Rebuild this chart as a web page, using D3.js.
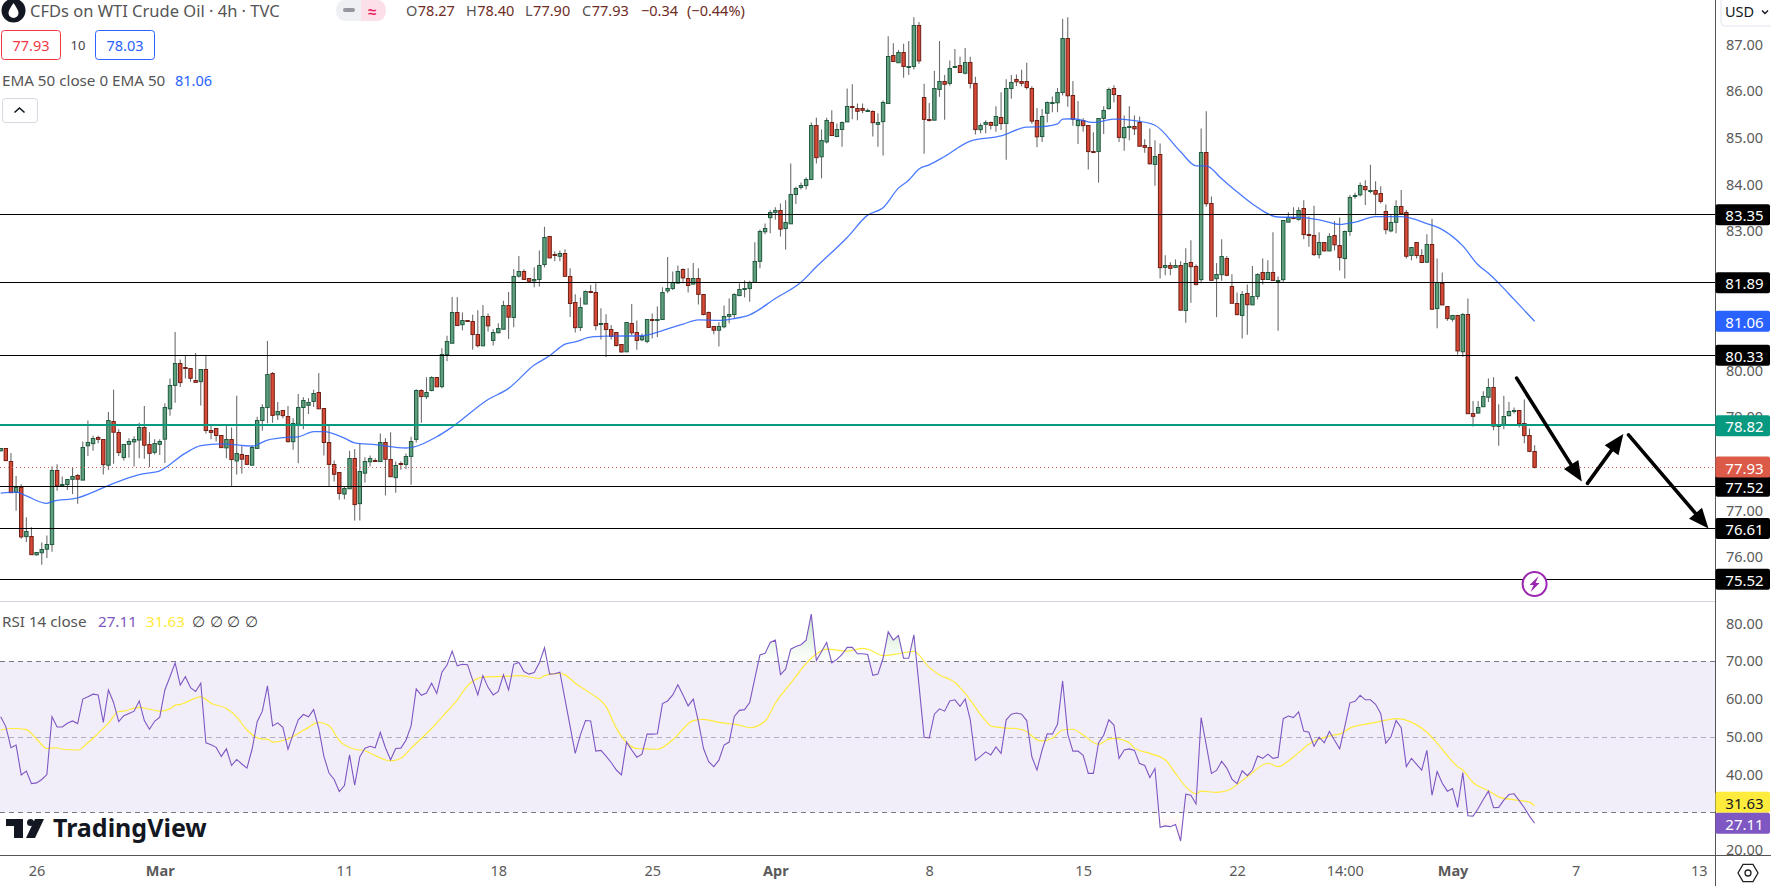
<!DOCTYPE html>
<html>
<head>
<meta charset="utf-8">
<script src="https://cdn.jsdelivr.net/npm/d3@7"></script>
<style>
  html, body { margin: 0; padding: 0; background: #fff; overflow: hidden; }
  text { font-family: "Noto Sans", sans-serif; }
</style>
</head>
<body>
<div id="chart"></div>
<script>
// WTI 4h candles, one entry per bar
const opens = [
78.28,78.33,78.07,77.40,77.50,76.44,76.46,76.05,76.10,76.17,
76.27,77.86,77.55,77.56,77.67,77.75,77.67,78.39,78.44,78.57,
78.53,77.99,78.93,78.68,78.14,78.42,78.48,78.53,78.80,78.42,
78.25,78.44,78.53,79.19,79.69,80.16,80.08,80.05,79.81,79.77,
80.03,78.72,78.76,78.61,78.35,78.53,78.07,78.20,78.18,77.99,
78.35,78.93,79.21,79.94,79.06,79.15,79.02,78.48,78.87,79.23,
79.26,79.34,79.54,79.19,78.46,77.99,77.82,77.35,77.47,78.12,
77.15,77.82,78.05,78.09,78.05,78.46,78.10,77.71,78.01,77.99,
78.18,78.53,79.58,79.45,79.58,79.86,79.66,80.35,80.61,81.27,
80.99,81.08,81.06,80.78,80.54,81.17,80.65,80.82,80.91,81.42,
81.15,82.03,82.15,81.98,81.93,81.98,82.28,82.89,82.50,82.46,
82.52,82.03,81.47,80.93,81.45,81.71,81.70,81.01,81.02,80.89,
80.82,80.57,80.41,81.02,80.84,80.67,80.63,81.11,81.11,81.12,
81.72,81.77,81.90,82.18,82.00,81.88,81.98,81.64,81.27,80.95,
80.87,80.95,81.17,81.21,81.62,81.76,81.77,81.90,82.35,82.99,
83.29,83.42,83.46,83.06,83.16,83.79,83.94,83.98,84.11,85.27,
84.60,84.92,85.33,85.03,85.18,85.35,85.68,85.65,85.63,85.58,
85.57,85.31,85.35,85.74,86.77,86.62,86.84,86.53,86.54,87.42,
85.87,85.40,85.38,86.06,86.23,86.17,86.53,86.56,86.39,86.62,
86.17,85.18,85.31,85.35,85.27,85.44,85.31,86.06,86.26,86.23,
86.21,86.08,85.38,85.03,85.55,85.78,85.76,85.98,87.14,85.91,
85.27,85.38,85.27,84.71,84.71,85.42,85.63,86.06,85.91,85.01,
85.24,85.25,85.35,84.84,84.80,84.45,84.65,82.22,82.26,82.22,
82.26,81.30,82.33,82.24,81.96,84.69,83.59,81.98,82.07,82.43,
81.81,81.45,81.19,81.66,81.42,81.60,82.11,81.96,82.11,81.94,
81.96,83.21,83.29,83.27,83.49,82.93,82.91,82.50,82.76,82.58,
82.91,82.69,82.43,82.99,83.77,83.78,83.96,83.89,83.89,83.81,
83.42,83.01,83.19,83.53,83.40,82.48,82.76,82.48,82.33,82.71,
81.34,81.88,81.38,81.12,81.20,80.41,81.21,79.10,79.11,79.23,
79.45,79.66,78.83,78.85,79.04,79.13,79.15,78.87,78.61,78.27];
const closes = [
78.33,78.07,77.40,77.50,76.44,76.55,76.07,76.10,76.17,76.27,
77.86,77.53,77.57,77.67,77.73,77.67,78.37,78.46,78.55,78.53,
77.99,78.95,78.70,78.25,78.42,78.48,78.53,78.80,78.42,78.23,
78.44,78.50,79.21,79.69,80.16,79.75,80.07,79.84,79.77,80.03,
78.72,78.68,78.61,78.35,78.53,78.10,78.23,78.10,77.99,78.37,
78.95,79.21,79.92,79.04,79.13,79.04,78.48,78.87,79.23,79.38,
79.32,79.51,79.19,78.46,77.99,77.78,77.37,77.47,78.12,77.13,
77.84,78.07,78.12,78.07,78.46,78.10,77.73,77.97,78.00,78.16,
78.50,79.58,79.45,79.54,79.86,79.66,80.35,80.63,81.27,80.99,
81.08,81.07,80.78,80.54,81.17,80.97,80.82,80.91,81.42,81.17,
82.03,82.13,81.98,81.92,81.96,82.28,82.86,82.43,82.48,82.52,
82.03,81.45,80.93,81.36,81.72,81.70,80.99,81.02,80.89,80.74,
80.54,80.41,81.04,80.82,80.67,80.74,81.10,81.10,81.12,81.70,
81.77,81.90,82.15,82.00,81.85,82.00,81.64,81.21,80.95,80.87,
80.95,81.17,81.21,81.64,81.75,81.78,81.90,82.35,82.99,83.06,
83.40,83.46,83.06,83.19,83.79,83.92,83.98,84.11,85.27,84.58,
84.95,85.38,85.05,85.18,85.33,85.68,85.67,85.59,85.59,85.59,
85.33,85.35,85.76,86.75,86.64,86.84,86.54,86.54,87.42,86.66,
85.40,85.38,86.06,86.23,86.17,86.49,86.54,86.41,86.62,86.17,
85.18,85.27,85.35,85.29,85.46,85.31,86.06,86.19,86.21,86.19,
86.08,85.38,85.03,85.46,85.78,85.78,85.98,87.14,85.91,85.40,
85.38,85.27,84.71,84.70,85.42,85.59,86.04,85.93,85.01,85.23,
85.25,85.20,84.84,84.80,84.45,84.62,82.22,82.26,82.20,82.26,
81.30,82.31,82.24,81.85,84.69,83.59,81.94,82.07,82.46,82.07,
81.45,81.21,81.64,81.42,81.60,82.07,81.96,82.11,81.94,81.95,
83.23,83.31,83.27,83.46,82.93,82.92,82.50,82.76,82.58,82.89,
82.71,82.43,83.01,83.72,83.78,83.98,83.89,83.89,83.81,83.64,
83.03,83.19,83.53,83.38,82.46,82.65,82.48,82.33,82.71,81.32,
81.90,81.42,81.12,81.20,80.44,81.21,79.08,79.04,79.23,79.45,
79.66,78.83,78.84,79.02,79.13,79.15,78.87,78.61,78.27,77.93];
const highs = [
78.34,78.33,78.23,77.74,77.56,76.85,76.64,76.10,76.31,76.46,
77.94,77.99,77.73,77.67,77.92,77.78,78.48,78.93,78.60,78.60,
78.53,79.11,79.59,78.74,78.42,78.55,78.59,78.88,79.24,78.68,
78.53,78.53,79.30,79.83,80.83,80.24,80.33,80.05,80.38,80.03,
80.34,78.84,78.76,78.61,78.85,78.78,79.46,78.38,78.18,78.40,
79.01,79.28,80.64,79.97,79.33,79.15,79.24,78.98,79.50,79.43,
79.41,79.59,79.95,79.19,78.81,78.07,77.82,77.51,78.28,78.32,
78.44,78.14,78.18,78.12,78.65,78.55,78.68,78.05,78.05,78.22,
78.58,79.60,79.60,79.86,79.88,79.86,80.48,80.75,81.58,81.58,
81.25,81.08,81.20,81.30,81.41,81.23,80.89,81.02,81.50,81.69,
82.18,82.46,82.18,81.98,82.22,82.58,83.09,82.89,82.56,82.58,
82.61,82.20,81.64,81.57,81.72,81.84,81.88,81.34,81.21,80.98,
80.82,80.57,81.04,81.43,81.08,80.80,81.10,81.23,81.38,81.79,
82.44,82.13,82.26,82.20,82.20,82.31,82.20,81.64,81.27,80.95,
81.04,81.40,81.55,81.66,81.88,81.94,81.93,82.76,83.03,83.16,
83.45,83.51,83.59,83.66,84.45,83.95,84.04,84.15,85.33,85.43,
85.18,85.43,85.59,85.31,85.35,86.06,86.15,85.74,85.74,85.63,
85.59,85.53,85.80,87.18,87.03,86.89,87.02,87.08,87.59,87.49,
86.16,85.75,86.44,87.08,86.35,86.66,86.91,86.74,86.93,86.74,
86.31,85.31,85.38,85.35,85.68,85.98,86.26,86.35,86.36,86.46,
86.61,86.11,85.64,85.62,85.78,85.89,86.07,87.55,87.59,86.22,
85.79,85.42,85.27,85.12,85.42,85.68,86.08,86.13,85.91,85.48,
85.68,85.48,85.46,84.97,85.20,84.95,84.88,82.48,82.33,82.39,
82.35,82.63,82.80,82.28,85.20,85.57,83.74,82.31,82.82,82.46,
82.07,81.68,81.71,81.85,82.25,82.09,82.41,82.37,82.97,82.02,
83.23,83.40,83.51,83.51,83.66,83.31,83.54,82.97,82.76,82.95,
83.21,83.29,83.01,83.77,83.82,84.04,84.09,84.42,84.07,83.96,
83.57,83.36,83.66,83.88,83.45,82.65,82.76,82.61,82.93,83.26,
82.41,82.11,81.38,81.20,81.20,81.24,81.55,79.35,79.35,79.56,
79.83,79.86,79.28,79.46,79.33,79.21,79.15,79.38,78.76,78.40];
const lows = [
78.27,78.07,77.40,76.99,76.39,76.32,76.06,76.03,75.83,75.98,
76.11,77.42,77.50,77.44,77.35,77.14,77.67,78.17,78.28,78.44,
77.77,77.87,78.00,78.17,78.07,78.13,77.94,78.12,78.11,77.93,
78.20,78.19,78.02,79.03,79.31,79.65,79.83,79.76,79.75,79.25,
78.65,78.53,78.48,78.35,78.12,77.51,77.77,77.79,77.98,77.99,
78.35,78.71,78.87,78.88,78.94,78.98,78.46,78.30,78.01,78.74,
79.07,79.22,79.19,78.18,77.52,77.62,77.23,77.24,77.47,76.78,
76.78,77.60,77.94,78.05,78.05,77.32,77.73,77.38,77.87,77.89,
77.55,78.46,78.88,79.39,79.56,79.66,79.62,80.20,80.61,80.99,
80.87,81.07,80.45,80.50,80.54,80.84,80.54,80.80,80.91,80.68,
80.93,82.00,81.98,81.89,81.79,81.81,82.22,82.43,82.35,82.35,
82.03,81.15,80.82,80.85,81.45,81.66,80.87,80.67,80.29,80.67,
80.52,80.39,80.41,80.76,80.45,80.63,80.59,80.69,80.72,81.12,
81.66,81.73,81.88,81.88,81.68,81.85,81.42,81.19,80.95,80.78,
80.52,80.91,81.02,81.12,81.60,81.57,81.48,81.90,82.20,82.93,
82.95,83.24,82.88,82.60,83.16,83.58,83.89,83.89,84.11,84.45,
84.13,84.88,85.05,85.01,84.81,85.35,85.40,85.38,85.53,85.56,
85.03,84.81,84.62,85.74,86.64,86.62,86.29,86.35,86.47,86.59,
84.66,85.35,85.38,85.88,85.39,86.12,86.51,86.41,86.36,86.06,
85.07,85.10,85.10,85.18,85.13,85.17,84.53,85.84,86.11,86.11,
86.04,85.30,84.80,84.91,85.33,85.55,85.55,85.91,85.67,85.26,
84.87,85.13,84.32,84.70,84.04,85.08,85.61,85.76,84.91,84.72,
84.95,85.06,84.83,84.68,84.43,83.97,81.98,82.05,82.05,82.20,
81.30,81.03,81.46,81.84,81.88,83.52,81.94,81.15,81.93,82.03,
81.45,81.21,80.69,80.77,81.42,81.53,81.85,81.96,81.94,80.86,
81.90,83.19,83.25,83.22,82.82,82.66,82.46,82.41,82.56,82.58,
82.58,82.15,81.98,82.90,83.69,83.74,83.56,83.81,83.34,83.59,
82.93,82.97,82.95,83.38,82.41,82.37,82.41,82.31,82.31,81.32,
80.91,81.42,81.07,81.05,80.34,80.30,79.08,78.80,79.08,79.23,
79.33,78.72,78.39,78.74,79.02,79.08,78.78,78.44,78.25,77.90];

// EMA 50, read at the bars where it bends
const emaBars = [0,3,5,9,10,15,19,22,27,31,36,39,43,49,52,56,58,61,63,67,69,73,79,85,88,95,99,104,107,110,112,115,118,125,129,133,136,140,143,146,151,156,159,165,169,172,175,177,179,181,184,189,195,200,203,206,207,209,213,217,221,225,230,233,235,238,241,244,249,253,257,261,264,268,273,278,281,285,288,290,292,295,299];
const emaValues = [77.37,77.39,77.31,77.15,77.19,77.27,77.44,77.58,77.77,77.85,78.23,78.39,78.43,78.38,78.51,78.57,78.58,78.69,78.69,78.55,78.45,78.41,78.34,78.58,78.79,79.38,79.62,80.12,80.32,80.57,80.62,80.72,80.74,80.75,80.86,81.00,81.09,81.08,81.12,81.20,81.55,81.90,82.23,82.86,83.34,83.50,83.92,84.09,84.33,84.42,84.60,84.93,85.04,85.23,85.24,85.30,85.40,85.41,85.33,85.40,85.37,85.27,84.70,84.40,84.40,84.12,83.84,83.58,83.30,83.29,83.24,83.14,83.19,83.31,83.31,83.16,83.03,82.68,82.27,82.09,81.88,81.53,81.06];

// RSI 14, one entry per bar
const rsiValues = [
55.3,52.7,47.1,47.8,39.9,40.9,37.6,37.8,38.7,40.0,
55.3,52.6,52.6,53.6,54.2,53.5,60.0,60.6,61.3,61.1,
53.8,62.4,59.1,54.0,55.6,56.2,56.8,59.5,54.3,52.0,
54.1,55.2,62.4,65.9,69.6,63.7,65.9,63.0,62.0,64.2,
48.4,47.9,47.2,44.8,46.8,42.4,44.0,42.8,41.7,46.7,
54.0,56.8,63.5,52.9,53.7,52.5,46.7,50.7,54.5,55.9,
55.3,57.2,52.2,44.8,40.4,38.7,35.5,37.1,45.2,37.2,
44.7,47.0,47.5,47.1,51.2,47.1,43.9,46.9,47.0,49.1,
52.9,62.7,61.0,61.6,64.2,61.5,67.1,69.0,72.7,68.8,
69.2,69.1,65.0,61.1,66.2,63.1,61.1,62.0,66.4,62.4,
69.2,69.7,67.3,66.6,67.0,69.6,73.6,66.6,66.7,67.1,
59.9,52.7,45.6,50.5,54.3,54.2,46.2,46.4,44.9,43.2,
41.2,39.9,48.6,46.5,44.6,45.4,50.7,50.7,50.8,58.8,
59.5,61.1,63.8,61.1,58.2,60.0,54.0,46.9,43.4,42.1,
43.8,47.8,48.6,55.4,57.0,57.2,59.1,65.5,71.7,72.1,
75.0,75.6,66.5,67.9,73.2,73.9,74.4,75.6,82.5,70.2,
72.6,75.0,69.6,70.5,71.8,73.7,73.7,72.0,72.0,71.8,
66.3,66.6,70.8,77.8,75.6,76.8,70.8,70.8,77.0,63.7,
49.9,49.7,56.0,57.4,56.8,59.5,59.8,58.1,60.0,54.5,
43.8,44.8,46.0,45.2,47.3,45.6,54.5,56.0,56.3,56.0,
54.3,44.7,41.2,46.5,50.8,50.7,53.3,64.8,50.7,46.2,
46.2,45.1,40.3,40.3,48.4,50.4,54.5,53.1,44.3,46.5,
46.8,46.4,42.9,42.4,39.2,41.6,26.0,26.4,26.2,26.8,
22.4,34.8,34.5,32.2,55.1,47.8,40.3,41.1,43.5,41.7,
38.8,37.6,41.0,39.7,41.2,44.9,44.3,45.4,44.3,44.6,
54.8,55.5,55.1,56.6,51.5,51.2,47.5,49.9,48.4,51.4,
49.1,46.8,52.7,59.0,59.4,61.0,59.8,59.8,58.6,56.2,
48.3,50.0,54.3,52.4,42.1,44.3,42.7,41.2,46.4,34.5,
40.8,37.7,35.6,36.3,31.3,40.5,29.1,29.0,31.0,33.4,
35.6,31.2,31.3,33.2,34.7,34.9,33.1,31.2,29.0,27.11];

// RSI moving average, read at the bars where it bends
const maBars = [0,2,3,5,7,9,11,12,15,17,19,21,23,24,27,29,31,33,34,35,39,41,44,46,48,51,52,53,56,58,60,62,64,66,69,71,73,76,78,80,84,87,89,91,94,98,101,105,106,109,110,112,115,118,120,124,126,128,131,135,137,140,144,146,149,151,154,158,161,165,168,169,172,175,178,181,183,186,188,192,193,196,198,200,202,203,205,207,209,211,214,216,217,220,221,224,227,229,231,233,234,237,239,243,247,249,252,255,260,261,263,268,270,272,275,278,280,284,285,287,290,292,295,298,299];
const maValues = [51.8,52.2,52.2,51.9,49.4,46.9,47.1,46.7,46.5,48.4,50.9,53.6,56.7,56.8,57.8,57.3,56.8,57.4,58.4,58.6,60.6,58.9,57.5,55.3,51.8,49.4,49.4,48.6,49.4,50.9,52.5,53.8,52.9,49.0,46.7,46.3,45.0,43.6,44.3,47.0,52.2,56.7,59.8,63.5,65.8,66.0,66.2,65.5,66.2,66.8,66.4,64.2,61.5,58.0,52.3,46.9,46.8,46.7,49.2,54.3,54.6,53.8,53.1,52.4,54.2,58.9,64.2,70.8,73.2,72.7,73.4,73.2,71.5,72.0,72.6,68.4,66.4,64.4,61.5,54.2,52.9,52.3,52.2,51.4,49.2,48.9,49.6,51.8,52.0,50.5,48.0,49.4,49.6,48.4,47.0,45.6,43.9,40.3,36.8,34.9,35.6,35.3,35.7,39.4,43.0,42.1,44.7,48.0,50.5,50.7,52.3,53.8,54.4,54.8,53.9,51.2,48.3,42.1,41.2,37.9,35.7,34.1,33.3,32.7,31.63];

const priceTicks = [87,86,85,84,83,80,79,77,76];
const rsiTicks = [80,70,60,50,40,20];
const timeTickBars = [7,31,67,97,127,151,181,211,241,262,283,307,331];
const timeTickLabels = ["26","Mar","11","18","25","Apr","8","15","22","14:00","May","7","13"];
const timeTickBold = ["Mar","Apr","May"];

// horizontal levels drawn on the chart
const blackLevels = [83.35,81.89,80.33,77.52,76.61,75.52];
const tealLevel = 78.82;
const lastClose = 77.93;
const lastEma = 81.06;
const lastRsi = 27.11;
const lastMa = 31.63;

// the three hand drawn arrows, [from, to]
const arrowBars = [[295.5,308.2],[309.3,316.3],[317.3,332.9]];
const arrowPrices = [[79.84,77.62],[77.58,78.64],[78.62,76.61]];
const boltBar = 299;
const boltPrice = 75.42;

const width = 1771, height = 886;
const axisX = 1715.5, paneSplit = 601.5, bottomY = 855.5;

const x = d3.scaleLinear().domain([0, 299]).range([0.7, 1534.6]);
const y = d3.scaleLinear().domain([87, 75.52]).range([44.7, 579.3]);
const yRsi = d3.scaleLinear().domain([70, 30]).range([661.3, 812.3]);

const svg = d3.select("#chart").append("svg")
  .attr("width", width).attr("height", height)
  .style("display", "block");

const defs = svg.append("defs");
defs.append("clipPath").attr("id", "clip-price").append("rect")
  .attr("x", 0).attr("y", 0).attr("width", axisX).attr("height", paneSplit);
defs.append("clipPath").attr("id", "clip-rsi").append("rect")
  .attr("x", 0).attr("y", paneSplit).attr("width", axisX).attr("height", bottomY - paneSplit);
defs.append("clipPath").attr("id", "clip-over").append("rect")
  .attr("x", 0).attr("y", paneSplit).attr("width", axisX).attr("height", yRsi(70) - paneSplit);
defs.append("clipPath").attr("id", "clip-under").append("rect")
  .attr("x", 0).attr("y", yRsi(30)).attr("width", axisX).attr("height", bottomY - yRsi(30));

const overGrad = defs.append("linearGradient").attr("id", "grad-over")
  .attr("gradientUnits", "userSpaceOnUse")
  .attr("x1", 0).attr("x2", 0).attr("y1", yRsi(82)).attr("y2", yRsi(70));
overGrad.append("stop").attr("offset", 0).attr("stop-color", "#4caf50").attr("stop-opacity", 0.3);
overGrad.append("stop").attr("offset", 1).attr("stop-color", "#4caf50").attr("stop-opacity", 0);
const underGrad = defs.append("linearGradient").attr("id", "grad-under")
  .attr("gradientUnits", "userSpaceOnUse")
  .attr("x1", 0).attr("x2", 0).attr("y1", yRsi(30)).attr("y2", yRsi(22));
underGrad.append("stop").attr("offset", 0).attr("stop-color", "#ff5252").attr("stop-opacity", 0);
underGrad.append("stop").attr("offset", 1).attr("stop-color", "#ff5252").attr("stop-opacity", 0.14);

const bars = d3.range(opens.length);
const priceG = svg.append("g").attr("clip-path", "url(#clip-price)");

// wicks then bodies
priceG.append("g").selectAll("line").data(bars).join("line")
  .attr("x1", i => x(i)).attr("x2", i => x(i))
  .attr("y1", i => y(highs[i])).attr("y2", i => y(lows[i]))
  .attr("stroke", "#6e6e6e").attr("stroke-width", 1.1);

priceG.append("g").selectAll("rect").data(bars).join("rect")
  .attr("x", i => x(i) - 1.7)
  .attr("width", 3.4)
  .attr("y", i => Math.round(y(Math.max(opens[i], closes[i]))) + 0.5)
  .attr("height", i => Math.max(1, Math.abs(y(opens[i]) - y(closes[i]))))
  .attr("fill", i => closes[i] >= opens[i] ? "#5f9f7e" : "#d64a36")
  .attr("stroke", i => closes[i] >= opens[i] ? "#1f5a3e" : "#6e1f16")
  .attr("stroke-width", 1);

const emaLine = d3.line().x(d => x(d[0])).y(d => y(d[1])).curve(d3.curveMonotoneX);
priceG.append("path").datum(d3.zip(emaBars, emaValues))
  .attr("d", emaLine).attr("fill", "none")
  .attr("stroke", "#2962ff").attr("stroke-width", 1.3).attr("stroke-opacity", 0.85);

// level lines
priceG.append("g").selectAll("line").data(blackLevels).join("line")
  .attr("x1", 0).attr("x2", axisX)
  .attr("y1", d => Math.floor(y(d)) + 0.5).attr("y2", d => Math.floor(y(d)) + 0.5)
  .attr("stroke", "#000").attr("stroke-width", 1);
priceG.append("line")
  .attr("x1", 0).attr("x2", axisX)
  .attr("y1", Math.floor(y(tealLevel))).attr("y2", Math.floor(y(tealLevel)))
  .attr("stroke", "#089981").attr("stroke-width", 2);
priceG.append("line")
  .attr("x1", 0).attr("x2", axisX)
  .attr("y1", Math.floor(y(lastClose)) + 0.5).attr("y2", Math.floor(y(lastClose)) + 0.5)
  .attr("stroke", "#d9574a").attr("stroke-width", 1).attr("stroke-dasharray", "1 3");

// arrows
arrowBars.forEach((b, k) => {
  const x0 = x(b[0]), x1 = x(b[1]);
  const y0 = y(arrowPrices[k][0]), y1 = y(arrowPrices[k][1]);
  const a = Math.atan2(y1 - y0, x1 - x0);
  const headLen = 20, headW = 8.5;
  const bx = x1 - headLen * Math.cos(a), by = y1 - headLen * Math.sin(a);
  priceG.append("line")
    .attr("x1", x0).attr("y1", y0).attr("x2", bx).attr("y2", by)
    .attr("stroke", "#000").attr("stroke-width", 3.6).attr("stroke-linecap", "round");
  priceG.append("path")
    .attr("d", d3.line()([
      [x1, y1],
      [bx - headW * Math.sin(a), by + headW * Math.cos(a)],
      [bx + headW * Math.sin(a), by - headW * Math.cos(a)]
    ]) + "Z")
    .attr("fill", "#000");
});

// lightning badge
const bolt = priceG.append("g")
  .attr("transform", `translate(${x(boltBar)},${y(boltPrice)})`);
bolt.append("circle").attr("r", 12).attr("fill", "#fff")
  .attr("stroke", "#9c27b0").attr("stroke-width", 2);
bolt.append("path").attr("d", "M4 -8L-5 1L-1 1L-4 8L5 -1L1 -1Z").attr("fill", "#9c27b0");

// ---- RSI pane
svg.append("rect")
  .attr("x", 0).attr("width", axisX)
  .attr("y", yRsi(70)).attr("height", yRsi(30) - yRsi(70))
  .attr("fill", "#7e57c2").attr("fill-opacity", 0.1);

const rsiG = svg.append("g").attr("clip-path", "url(#clip-rsi)");
const rsiLine = d3.line().x(i => x(i)).y(i => yRsi(rsiValues[i]));

rsiG.append("path").datum(bars)
  .attr("clip-path", "url(#clip-over)")
  .attr("d", d3.area().x(i => x(i)).y0(yRsi(70)).y1(i => yRsi(rsiValues[i])))
  .attr("fill", "url(#grad-over)");
rsiG.append("path").datum(bars)
  .attr("clip-path", "url(#clip-under)")
  .attr("d", d3.area().x(i => x(i)).y0(yRsi(30)).y1(i => yRsi(rsiValues[i])))
  .attr("fill", "url(#grad-under)");

[[70, "#787b86"], [50, "#b2b0bc"], [30, "#787b86"]].forEach(([v, c]) => {
  rsiG.append("line")
    .attr("x1", 0).attr("x2", axisX)
    .attr("y1", Math.round(yRsi(v)) + 0.5).attr("y2", Math.round(yRsi(v)) + 0.5)
    .attr("stroke", c).attr("stroke-width", 1).attr("stroke-dasharray", "5 4");
});

rsiG.append("path").datum(d3.zip(maBars, maValues))
  .attr("d", d3.line().x(d => x(d[0])).y(d => yRsi(d[1])).curve(d3.curveMonotoneX))
  .attr("fill", "none").attr("stroke", "#ffeb3b").attr("stroke-width", 1.2);
rsiG.append("path").datum(bars)
  .attr("d", rsiLine).attr("fill", "none")
  .attr("stroke", "#7e57c2").attr("stroke-width", 1.1);

// pane separator and frame lines
svg.append("line").attr("x1", 0).attr("x2", axisX).attr("y1", paneSplit).attr("y2", paneSplit)
  .attr("stroke", "#d6d4e0").attr("stroke-width", 1);
svg.append("line").attr("x1", axisX).attr("x2", axisX).attr("y1", 0).attr("y2", height)
  .attr("stroke", "#555").attr("stroke-width", 1);

// ---- axes
function styleAxis(g) {
  g.select(".domain").remove();
  g.selectAll(".tick line").remove();
  g.selectAll("text").attr("fill", "#5a5a5a").style("font-size", "14.5px")
    .style("font-family", '"Noto Sans", sans-serif');
}
svg.append("g").attr("transform", `translate(${axisX},0)`)
  .call(d3.axisRight(y).tickValues(priceTicks).tickFormat(d3.format(".2f")).tickSize(0).tickPadding(10.5))
  .call(styleAxis);
svg.append("g").attr("transform", `translate(${axisX},0)`)
  .call(d3.axisRight(yRsi).tickValues(rsiTicks).tickFormat(d3.format(".2f")).tickSize(0).tickPadding(10.5))
  .call(styleAxis);
// 20.00 runs under the time axis in the reference
svg.append("rect").attr("x", axisX + 1).attr("y", bottomY)
  .attr("width", width - axisX).attr("height", 30).attr("fill", "#fff");
svg.append("line").attr("x1", 0).attr("x2", width).attr("y1", bottomY).attr("y2", bottomY)
  .attr("stroke", "#555").attr("stroke-width", 1);

const xAxis = d3.axisBottom(x).tickValues(timeTickBars)
  .tickFormat((d, i) => timeTickLabels[i]).tickSize(0).tickPadding(10);
const xAxisG = svg.append("g").attr("transform", `translate(0,${bottomY})`).call(xAxis).call(styleAxis);
xAxisG.selectAll("text")
  .style("font-weight", (d, i) => timeTickBold.includes(timeTickLabels[i]) ? 700 : 400);

// ---- last value tags on the price scale
function tag(py, label, fill, color) {
  svg.append("rect").attr("x", axisX).attr("y", py - 10.5)
    .attr("width", 54.5).attr("height", 21).attr("rx", 2).attr("fill", fill);
  svg.append("text").attr("x", axisX + 29).attr("y", py + 0.5)
    .attr("text-anchor", "middle").attr("dominant-baseline", "central")
    .attr("fill", color).style("font-size", "15px").text(label);
}
blackLevels.forEach(v => tag(y(v), v.toFixed(2), "#000", "#fff"));
tag(y(lastEma), lastEma.toFixed(2), "#2962ff", "#fff");
tag(y(tealLevel), tealLevel.toFixed(2), "#089981", "#fff");
tag(y(lastClose), lastClose.toFixed(2), "#dc5a48", "#fff");
const rsiTagY = yRsi(lastRsi);
tag(Math.min(yRsi(lastMa), rsiTagY - 21), lastMa.toFixed(2), "#ffeb3b", "#131722");
tag(rsiTagY, lastRsi.toFixed(2), "#7e57c2", "#fff");

// ---- header legend
const headColor = "#555";
const head = svg.append("g");
head.append("circle").attr("cx", 13.5).attr("cy", 10.5).attr("r", 12).attr("fill", "#131722");
head.append("path").attr("d", "M13.5 3C11 7 8.5 10 8.5 13a5 5 0 0 0 10 0C18.5 10 16 7 13.5 3Z").attr("fill", "#fff");
head.append("text").attr("x", 30).attr("y", 17).attr("fill", headColor)
  .style("font-size", "16.5px").text("CFDs on WTI Crude Oil · 4h · TVC");

// status pill
head.append("path").attr("d", "M361 0H344a8 10.5 0 0 0 -8 10.5a8 10.5 0 0 0 8 10.5H361Z").attr("fill", "#eff0f3");
head.append("path").attr("d", "M361 0H378a8 10.5 0 0 1 8 10.5a8 10.5 0 0 1 -8 10.5H361Z").attr("fill", "#fbe0e9");
head.append("rect").attr("x", 343).attr("y", 8).attr("width", 12).attr("height", 4).attr("rx", 2).attr("fill", "#9598a1");
head.append("text").attr("x", 372).attr("y", 16.5).attr("text-anchor", "middle")
  .attr("fill", "#e91e63").style("font-size", "15px").style("font-weight", 700).text("≈");

const ohlcLetters = ["O", "H", "L", "C"];
const ohlcNumbers = ["78.27", "78.40", "77.90", "77.93"];
const ohlcX = [406, 466, 525, 582];
ohlcLetters.forEach((l, k) => {
  const t = head.append("text").attr("x", ohlcX[k]).attr("y", 16).style("font-size", "14.5px");
  t.append("tspan").attr("fill", headColor).text(l);
  t.append("tspan").attr("fill", "#6e2c25").attr("dx", 0.5).text(ohlcNumbers[k]);
});
head.append("text").attr("x", 641).attr("y", 16).attr("fill", "#6e2c25")
  .style("font-size", "14.5px").text("−0.34");
head.append("text").attr("x", 687).attr("y", 16).attr("fill", "#6e2c25")
  .style("font-size", "14.5px").text("(−0.44%)");

// bid / ask boxes
head.append("rect").attr("x", 1.5).attr("y", 30.5).attr("width", 59).attr("height", 29).attr("rx", 3)
  .attr("fill", "#fff").attr("stroke", "#f23645");
head.append("text").attr("x", 31).attr("y", 50.5).attr("text-anchor", "middle")
  .attr("fill", "#f23645").style("font-size", "14.5px").text("77.93");
head.append("text").attr("x", 78).attr("y", 50).attr("text-anchor", "middle")
  .attr("fill", "#444").style("font-size", "13px").text("10");
head.append("rect").attr("x", 95.5).attr("y", 30.5).attr("width", 59).attr("height", 29).attr("rx", 3)
  .attr("fill", "#fff").attr("stroke", "#2962ff");
head.append("text").attr("x", 125).attr("y", 50.5).attr("text-anchor", "middle")
  .attr("fill", "#2962ff").style("font-size", "14.5px").text("78.03");

head.append("text").attr("x", 2).attr("y", 86).attr("fill", headColor)
  .style("font-size", "15.2px").text("EMA 50 close 0 EMA 50");
head.append("text").attr("x", 175).attr("y", 86).attr("fill", "#2962ff")
  .style("font-size", "14.5px").text(lastEma.toFixed(2));

head.append("rect").attr("x", 2.5).attr("y", 98.5).attr("width", 35).attr("height", 24).attr("rx", 3)
  .attr("fill", "#fff").attr("stroke", "#d8d8e2");
head.append("path").attr("d", "M14.5 112.5L19.5 108L24.5 112.5").attr("fill", "none")
  .attr("stroke", "#131722").attr("stroke-width", 1.6);

// RSI legend
const rsiHead = svg.append("g").style("font-size", "15.2px");
rsiHead.append("text").attr("x", 2).attr("y", 627).attr("fill", headColor).text("RSI 14 close");
rsiHead.append("text").attr("x", 98).attr("y", 627).attr("fill", "#7e57c2").text(lastRsi.toFixed(2));
rsiHead.append("text").attr("x", 146).attr("y", 627).attr("fill", "#ffeb3b").text(lastMa.toFixed(2));
[198, 216, 233, 251].forEach(px => {
  rsiHead.append("text").attr("x", px).attr("y", 627).attr("text-anchor", "middle")
    .attr("fill", "#444").text("∅");
});

// USD button
svg.append("rect").attr("x", 1721).attr("y", -4).attr("width", 60).attr("height", 30).attr("rx", 4)
  .attr("fill", "#fff").attr("stroke", "#e3e4ee");
svg.append("text").attr("x", 1725).attr("y", 17).attr("fill", "#131722")
  .style("font-size", "14.5px").text("USD");
svg.append("path").attr("d", "M1762 10.5L1765 13.5L1768 10.5").attr("fill", "none")
  .attr("stroke", "#131722").attr("stroke-width", 1.4);

// settings hexagon
const hex = d3.range(6).map(k => [
  1748 + 10 * Math.cos(k * Math.PI / 3),
  873 + 10 * Math.sin(k * Math.PI / 3)
]);
svg.append("path").attr("d", d3.line()(hex) + "Z").attr("fill", "none")
  .attr("stroke", "#222").attr("stroke-width", 1.3);
svg.append("circle").attr("cx", 1748).attr("cy", 873).attr("r", 3).attr("fill", "none")
  .attr("stroke", "#222").attr("stroke-width", 1.3);

// TradingView watermark
const wm = svg.append("g");
wm.append("path").attr("d", "M6 819H23V838H14V826H6Z").attr("fill", "#131722");
wm.append("circle").attr("cx", 30.5).attr("cy", 822.5).attr("r", 3.5).attr("fill", "#131722");
wm.append("path").attr("d", "M35 819H44L35 838H26Z").attr("fill", "#131722");
wm.append("text").attr("x", 53).attr("y", 837).attr("fill", "#131722")
  .style("font-size", "25px").style("font-weight", 700).text("TradingView");
</script>
</body>
</html>
